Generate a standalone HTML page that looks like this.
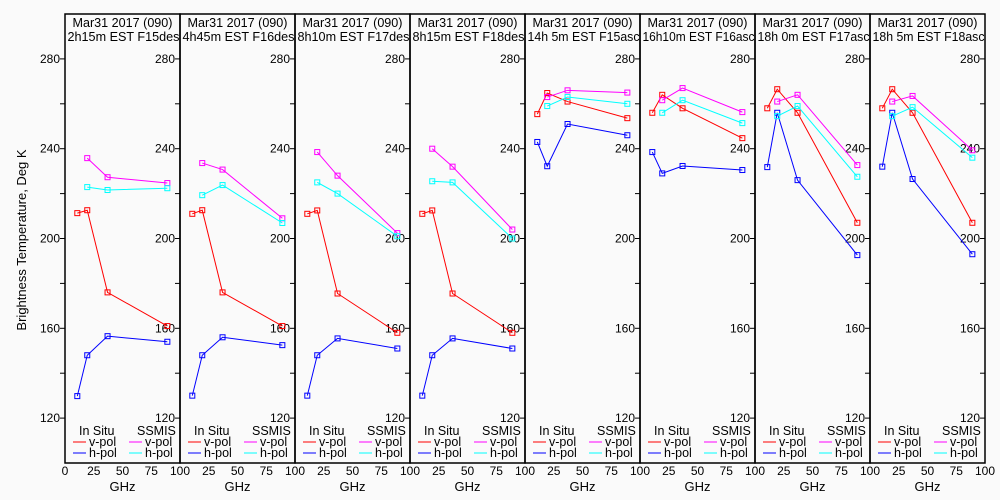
<!DOCTYPE html>
<html><head><meta charset="utf-8">
<style>
html,body{margin:0;padding:0;background:#fafafa;}
svg{display:block;font-family:"Liberation Sans","DejaVu Sans",sans-serif;}
</style></head>
<body>
<svg id="chart" width="1000" height="500" viewBox="0 0 1000 500" xmlns="http://www.w3.org/2000/svg">
<rect x="0" y="0" width="1000" height="500" fill="#fafafa"/>
<text x="26" y="240" font-size="13" text-anchor="middle" transform="rotate(-90 26 240)">Brightness Temperature, Deg K</text>
</svg>
<script>
var freqs = [10.7, 19.35, 37, 89];
var titles1 = ["Mar31 2017 (090)","Mar31 2017 (090)","Mar31 2017 (090)","Mar31 2017 (090)","Mar31 2017 (090)","Mar31 2017 (090)","Mar31 2017 (090)","Mar31 2017 (090)"];
var titles2 = ["2h15m EST F15des","4h45m EST F16des","8h10m EST F17des","8h15m EST F18des","14h 5m EST F15asc","16h10m EST F16asc","18h 0m EST F17asc","18h 5m EST F18asc"];
var insituV = [[211.3,212.6,176,161],[211,212.6,176,161],[211,212.5,175.5,158],[211,212.5,175.5,158],[255.4,264.8,261,253.6],[256,264,258,244.7],[258,266.5,256,207],[258,266.5,256,207]];
var insituH = [[129.8,148,156.5,154],[130,148,156,152.5],[130,148,155.5,151],[130,148,155.5,151],[243,232.2,251,246],[238.5,229,232.3,230.5],[231.8,256,226,192.6],[232,256,226.5,193]];
var ssmisV = [[null,235.8,227.3,224.7],[null,233.6,230.7,209],[null,238.5,228,202.4],[null,240,232,204],[null,263,266,265],[null,261.6,267,256.3],[null,261,264,232.7],[null,261,263.5,239.3]];
var ssmisH = [[null,222.9,221.6,222.4],[null,219.3,223.8,206.9],[null,225,220,201],[null,225.5,225,200],[null,259,263,260],[null,256,261.6,251.4],[null,254.5,259,227.5],[null,254.5,258.5,236]];
var yTicks = [120,140,160,180,200,220,240,260,280];
var yLabels = [120,160,200,240,280];
var xLabels = [0,25,50,75,100];

var NS="http://www.w3.org/2000/svg";
var svg=document.getElementById('chart');
var P0=65, PW=115, TOP=14, BOT=463;
function xs(i,f){return P0+i*PW+f*PW/100;}
function ys(v){return BOT-(v-100)*(BOT-TOP)/200;}
function mk(tag,attrs,parent){var e=document.createElementNS(NS,tag);for(var k in attrs)e.setAttribute(k,attrs[k]);(parent||svg).appendChild(e);return e;}

for(var i=0;i<8;i++){
  var g=mk('g',{});
  
  
  var L=P0+i*PW, R=L+PW;
  var fr=mk('rect',{x:L,y:TOP,width:PW,height:BOT-TOP,fill:'none',stroke:'#000','stroke-width':1.5},g);
  
  
  var t1=mk('text',{x:L+PW/2,y:27,'font-size':12.5,'text-anchor':'middle',textLength:100,lengthAdjust:'spacingAndGlyphs'},g);
  t1.textContent=titles1[i];
  
  
  var t2=mk('text',{x:L+PW/2+1,y:41,'font-size':12.5,'text-anchor':'middle',textLength:112,lengthAdjust:'spacingAndGlyphs'},g);
  t2.textContent=titles2[i];
  
  
  yTicks.forEach(function(v){
    var tk=mk('line',{x1:R-5,x2:R,y1:ys(v),y2:ys(v),stroke:'#000'},g);
    
    
    if(i===0){var tl=mk('line',{x1:L-5,x2:L,y1:ys(v),y2:ys(v),stroke:'#000'},g);
      
      }
  });
  yLabels.forEach(function(v){
    var tx=mk('text',{x:R-5,y:ys(v)+4,'font-size':12,'text-anchor':'end'},g);
    tx.textContent=v;
    
    
    if(i===0){var t0=mk('text',{x:L-5,y:ys(v)+4,'font-size':12,'text-anchor':'end'},g);
      t0.textContent=v;
      
      }
  });
  xLabels.forEach(function(v){
    if(i>0&&v===0)return;
    var tx=mk('text',{x:xs(i,v),y:475,'font-size':12,'text-anchor':'middle'},g);
    tx.textContent=v;
    
    
  });
  var gx=mk('text',{x:L+PW/2,y:491,'font-size':13,'text-anchor':'middle'},g);
  gx.textContent='GHz';
  
  
  var l1=mk('text',{x:L+14,y:435,'font-size':12.5},g);l1.textContent='In Situ';
  
  
  var l2=mk('text',{x:L+72,y:435,'font-size':12.5},g);l2.textContent='SSMIS';
  
  
  [['#ff0000','v-pol',L+8,446],['#0000ff','h-pol',L+8,457],['#ff00ff','v-pol',L+64,446],['#00ffff','h-pol',L+64,457]].forEach(function(e){
    var ln=mk('line',{x1:e[2],x2:e[2]+13,y1:e[3]-4,y2:e[3]-4,stroke:e[0]},g);
    
    
    var lt=mk('text',{x:e[2]+16,y:e[3],'font-size':12.5},g);lt.textContent=e[1];
    
    
  });
  [[insituV,'#ff0000','insitu-vpol'],[insituH,'#0000ff','insitu-hpol'],[ssmisV,'#ff00ff','ssmis-vpol'],[ssmisH,'#00ffff','ssmis-hpol']].forEach(function(s){
    var vals=s[0][i], pts=[];
    for(var j=0;j<freqs.length;j++){ if(vals[j]===null)continue; pts.push([xs(i,freqs[j]),ys(vals[j])]); }
    var pl=mk('polyline',{points:pts.map(function(p){return p.join(',');}).join(' '),fill:'none',stroke:s[1],'stroke-width':1},g);
    
    
    pts.forEach(function(p){
      var m=mk('rect',{x:p[0]-2.5,y:p[1]-2.5,width:5,height:5,fill:'none',stroke:s[1],'stroke-width':1},g);
      
      
    });
  });
}
</script>
</body></html>
